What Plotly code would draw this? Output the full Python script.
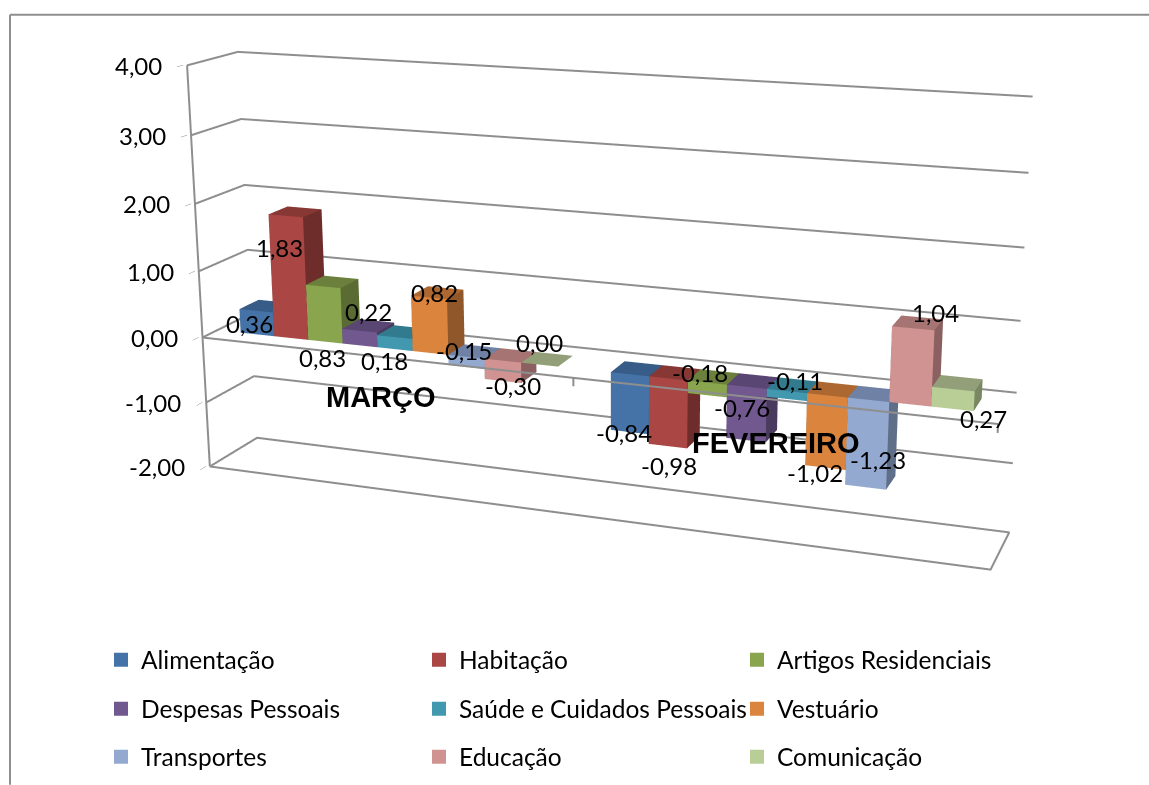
import numpy as np
import plotly.graph_objects as go

categories = ["MARÇO", "FEVEREIRO"]
series = ["Alimentação", "Habitação", "Artigos Residenciais", "Despesas Pessoais",
          "Saúde e Cuidados Pessoais", "Vestuário", "Transportes", "Educação", "Comunicação"]
marco = [0.36, 1.83, 0.83, 0.22, 0.18, 0.82, -0.15, -0.30, 0.00]
fevereiro = [-0.84, -0.98, -0.18, -0.76, -0.11, -1.02, -1.23, 1.04, 0.27]
ticks = [-2, -1, 0, 1, 2, 3, 4]
front = ["#4573A7", "#AA4643", "#89A54E", "#71588F", "#4298AF", "#DB843D", "#93A9D0", "#D19392", "#B9CD96"]
top = ["#365C87", "#873835", "#6B803C", "#5A4672", "#327A8D", "#AC6830", "#6F82A5", "#A57473", "#929F78"]
side = ["#2F4F75", "#6E2D2B", "#5A6C33", "#4A3A5E", "#2C6373", "#8F572A", "#5F6F8A", "#8A6160", "#7A8762"]

W, H = 1149, 785
BASEF = 1 / np.tan(np.pi / 8)

# Camera that reproduces the reference's view (about 20 degrees rotation, 15.6 degrees elevation)
EYE = np.array([1.695, -4.447, 1.269])
YAW, PITCH = 0.349, 0.272
ASPECT = np.array([2.0, 0.241, 1.03])
FOCAL, PX, PY = 2065.084, 621.531, 318.713
PAD = 1.01  # axis ranges are a hair wider than the box so that its edge lines are not clipped

def direction(yaw, pitch):
    return np.array([-np.sin(yaw) * np.cos(pitch), np.cos(yaw) * np.cos(pitch), -np.sin(pitch)])

VIEW = direction(YAW, PITCH)
RIGHT = np.cross(VIEW, [0, 0, 1]); RIGHT = RIGHT / np.linalg.norm(RIGHT)
UP = np.cross(RIGHT, VIEW)

def project(p):
    s = np.array([(p[0] - 1) / 2, p[1] - .5, (p[2] - 1) / 6]) * ASPECT
    d = s - EYE
    return np.array([PX + FOCAL * d.dot(RIGHT) / d.dot(VIEW), PY - FOCAL * d.dot(UP) / d.dot(VIEW)])

C = EYE + VIEW * np.linalg.norm(EYE)
hh = FOCAL / BASEF
hw = min(PX, W - PX)
T = hh - PY   # the 45-degree lens needs a taller canvas; it starts this far above the window
HF = 2 * hh

def yp(y):
    return 1 - (y + T) / HF

GAP = 0.7
CW = 9 + 2 * GAP
Y0, Y1 = 0.3, 0.7
LEG = ["legend", "legend2", "legend3"]
fig = go.Figure()
for i, name in enumerate(series):
    xs, ys, zs, I, J_, K, fc = [], [], [], [], [], [], []
    for j, vals in enumerate([marco, fevereiro]):
        a = j + (GAP + i) / CW
        b = a + 1 / CW
        v = vals[i]
        n = len(xs)
        for z in (0, v):
            for x, y in ((a, Y0), (b, Y0), (b, Y1), (a, Y1)):
                xs.append(x); ys.append(y); zs.append(z)
        lo, hi = (n, n + 4) if v >= 0 else (n + 4, n)
        faces = [((lo, lo + 1, hi + 1), front), ((lo, hi + 1, hi), front),
                 ((lo + 1, lo + 2, hi + 2), side), ((lo + 1, hi + 2, hi + 1), side),
                 ((lo + 3, lo, hi), side), ((lo + 3, hi, hi + 3), side),
                 ((lo + 2, lo + 3, hi + 3), side), ((lo + 2, hi + 3, hi + 2), side),
                 ((hi, hi + 1, hi + 2), top), ((hi, hi + 2, hi + 3), top),
                 ((lo, lo + 1, lo + 2), top), ((lo, lo + 2, lo + 3), top)]
        for (t, pal) in faces:
            I.append(t[0]); J_.append(t[1]); K.append(t[2]); fc.append(pal[i])
    fig.add_trace(go.Mesh3d(x=xs, y=ys, z=zs, i=I, j=J_, k=K, facecolor=fc, flatshading=True,
                            lighting=dict(ambient=1, diffuse=0, specular=0, roughness=1, fresnel=0),
                            hoverinfo="skip", showlegend=False, legendgroup=name))
    fig.add_trace(go.Scatter3d(x=[None], y=[None], z=[None], mode="markers", name=name, legendgroup=name,
                               marker=dict(symbol="square", size=14, color=front[i]),
                               legend=LEG[i // 3]))

GRID = "#8E8E8E"
LW = 4
lines = [([0, 2, 2, 0], [0, 0, 1, 1], [-2, -2, -2, -2]),
         ([0, 0], [0, 0], [-2, 4])]
for t in ticks:
    lines.append(([0, 0, 2], [0, 1, 1], [t, t, t]))
for lx, ly, lz in lines:
    fig.add_trace(go.Scatter3d(x=lx, y=ly, z=lz, mode="lines", line=dict(color=GRID, width=LW),
                               hoverinfo="skip", showlegend=False))
# The category axis sits in front of the bars, so it goes in an identical scene layered on top
for lx, ly, lz in [([0, 2], [0, 0], [0, 0]), ([1, 1], [0, 0], [0, -.12]), ([2, 2], [0, 0], [0, -.12])]:
    fig.add_trace(go.Scatter3d(x=lx, y=ly, z=lz, mode="lines", line=dict(color=GRID, width=LW), scene="scene2",
                               hoverinfo="skip", showlegend=False))

lab_px = [[(250, 324), (280, 248), (323, 358), (369, 312), (385, 361), (435, 293), (464, 351), (513, 386), (540, 343)],
          [(624, 433), (669, 466), (700, 373), (742, 408), (795, 381), (815, 473), (878, 460), (935, 313), (983, 419)]]
anns = []
for j, vals in enumerate([marco, fevereiro]):
    for i, v in enumerate(vals):
        x = j + (GAP + i + .5) / CW
        pr = project((x, .5, v))
        anns.append(dict(x=x, y=.5, z=v, text=f"{v:.2f}".replace(".", ","), showarrow=False,
                         xshift=float(lab_px[j][i][0] - pr[0]), yshift=float(pr[1] - lab_px[j][i][1]),
                         font=dict(family="Lato", size=24, color="#000")))
for j, (c, p_) in enumerate(zip(categories, [(381, 397), (776, 443)])):
    pr = project((j + .5, 0, 0))
    anns.append(dict(x=j + .5, y=0, z=0, text=f"<b>{c}</b>", showarrow=False,
                     xshift=float(p_[0] - pr[0]), yshift=float(pr[1] - p_[1]),
                     font=dict(family="Liberation Sans", size=29, color="#000")))
for t in ticks:
    anns.append(dict(x=0, y=0, z=t, text=f"{t:.2f}".replace(".", ","), showarrow=False, xanchor="right",
                     xshift=-23, font=dict(family="Lato", size=24, color="#000")))

hidden = dict(showgrid=False, showticklabels=False, showline=False, zeroline=False, showbackground=False,
              ticks="", title="", showspikes=False)
scene_common = dict(domain=dict(x=[max(0, (PX - hw) / W), min(1, (PX + hw) / W)], y=[0, 1]),
                    aspectmode="manual",
                    aspectratio=dict(x=ASPECT[0] * PAD, y=ASPECT[1] * PAD, z=ASPECT[2] * PAD),
                    camera=dict(eye=dict(x=EYE[0], y=EYE[1], z=EYE[2]), center=dict(x=C[0], y=C[1], z=C[2]),
                                up=dict(x=0, y=0, z=1), projection=dict(type="perspective")),
                    xaxis=dict(range=[1 - PAD, 1 + PAD], **hidden),
                    yaxis=dict(range=[.5 - .5 * PAD, .5 + .5 * PAD], **hidden))
legkw = dict(orientation="h", x=101 / W, yanchor="middle", xanchor="left", entrywidth=273,
             entrywidthmode="pixels", bgcolor="rgba(0,0,0,0)", font=dict(family="Lato", size=24.5, color="#000"))
fig.update_layout(
    width=W, height=HF, margin=dict(l=0, r=0, t=0, b=0), paper_bgcolor="white", separators=",.",
    font=dict(family="Lato", size=22, color="#000"),
    scene=dict(**scene_common,
               zaxis=dict(range=[1 - 3 * PAD, 1 + 3 * PAD], tickvals=ticks, showticklabels=False, showgrid=False,
                          showline=False, zeroline=False, showbackground=False, ticks="outside", ticklen=8,
                          tickcolor=GRID, title="", showspikes=False),
               annotations=anns),
    scene2=dict(**scene_common, zaxis=dict(range=[1 - 3 * PAD, 1 + 3 * PAD], **hidden)),
    shapes=[dict(type="line", xref="paper", yref="paper", x0=10 / W, x1=10 / W, y0=yp(H), y1=yp(15), line=dict(color=GRID, width=2)),
            dict(type="line", xref="paper", yref="paper", x0=10 / W, x1=1, y0=yp(15), y1=yp(15), line=dict(color=GRID, width=2))],
    legend=dict(y=yp(660), **legkw),
    legend2=dict(y=yp(709), **legkw),
    legend3=dict(y=yp(757), **legkw),
)
post = ("var h=document.documentElement,b=document.body;h.style.height=b.style.height='%dpx';"
        "h.style.overflow=b.style.overflow='hidden';b.style.margin='0';"
        "document.querySelector('.plotly-graph-div').style.marginTop='%.1fpx';" % (H, -T))
fig.write_html("out.html", post_script=post, config={"displayModeBar": False})
